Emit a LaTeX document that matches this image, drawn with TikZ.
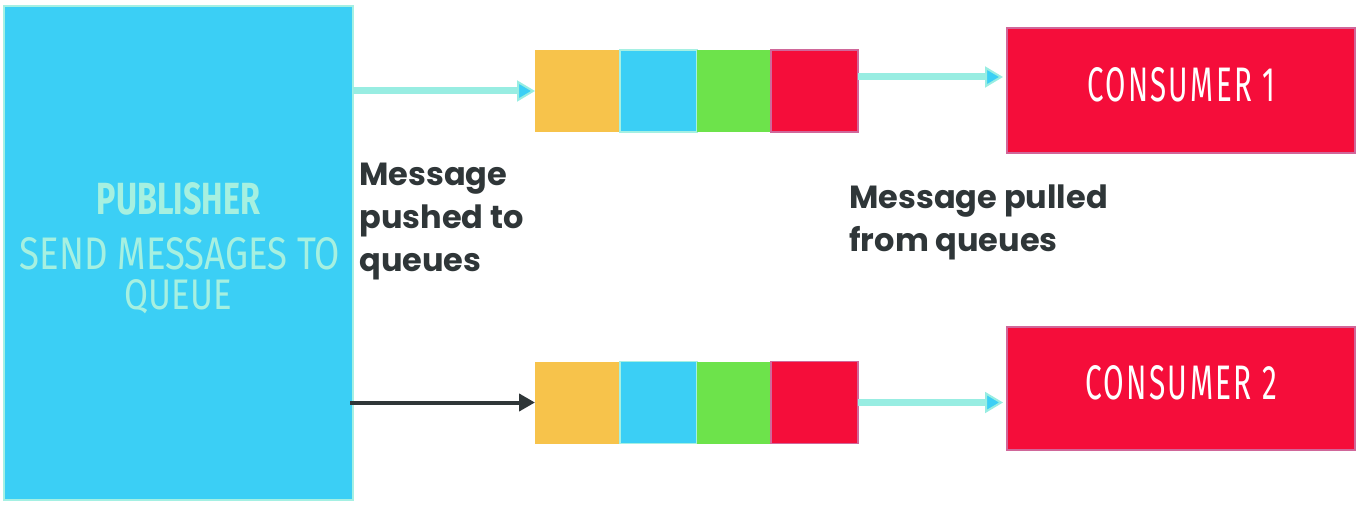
\documentclass[tikz,border=0pt]{standalone}
\usepackage{fontspec}
\setmainfont{Poppins}
\newfontfamily\condfont{Fira Sans}
\newfontfamily\spacedfont[LetterSpace=8]{Fira Sans}
\usetikzlibrary{arrows.meta}
\definecolor{pubblue}{HTML}{3BCFF5}
\definecolor{pubedge}{HTML}{A5F0E3}
\definecolor{mint}{HTML}{A6F0E0}
\definecolor{qyellow}{HTML}{F7C34B}
\definecolor{qgreen}{HTML}{6DE34B}
\definecolor{qred}{HTML}{F50D3A}
\definecolor{rededge}{HTML}{D0679A}
\definecolor{arrowcyan}{HTML}{98EDE2}
\definecolor{darktext}{HTML}{2F3638}
\begin{document}
\begin{tikzpicture}[x=0.5pt,y=-0.5pt,
  cell/.style={rectangle, inner sep=0pt, outer sep=0pt, minimum height=41pt, line width=0.6pt},
  consumer/.style={rectangle, inner sep=0pt, outer sep=0pt, fill=qred, draw=rededge, line width=0.8pt, minimum width=174pt},
  lightarrow/.style={draw=arrowcyan, line width=3.5pt, -{Triangle[length=9pt,width=10.5pt,fill=pubblue,line width=1pt]}},
  darkarrow/.style={draw=darktext, line width=2pt, -{Triangle[length=8pt,width=8.5pt]}},
  lbl/.style={anchor=north west, inner sep=0pt, align=left, text=darktext, font=\fontsize{16}{21.5}\selectfont\bfseries},
  pubtext/.style={inner sep=0pt, text=mint},
  context/.style={inner sep=0pt, text=white}
]
\useasboundingbox (0,0) rectangle (1363,508);
% publisher
\node[rectangle, inner sep=0pt, outer sep=0pt, fill=pubblue, draw=pubedge, line width=0.8pt,
      minimum width=174.5pt, minimum height=247pt] (pub) at (178.5,253) {};
\node[pubtext] (pubt1) at (178.5,199) {\resizebox{81.5pt}{16pt}{\condfont\bfseries PUBLISHER}};
\node[pubtext] (pubt2) at (180,254) {\resizebox{160pt}{16pt}{\condfont SEND MESSAGES TO}};
\node[pubtext] (pubt3) at (178.5,297) {\resizebox{53.5pt}{15pt}{\condfont QUEUE}};
% top queue
\node[cell, fill=qyellow, minimum width=42.5pt] (q1a) at (577.5,91) {};
\node[cell, fill=pubblue, draw=pubedge, minimum width=38.5pt] (q1b) at (658.5,91) {};
\node[cell, fill=qgreen, minimum width=37pt] (q1c) at (734,91) {};
\node[cell, fill=qred, draw=rededge, minimum width=43.5pt] (q1d) at (814.5,91) {};
% bottom queue
\node[cell, fill=qyellow, minimum width=42.5pt] (q2a) at (577.5,402.5) {};
\node[cell, fill=pubblue, draw=pubedge, minimum width=38.5pt] (q2b) at (658.5,402.5) {};
\node[cell, fill=qgreen, minimum width=37pt] (q2c) at (734,402.5) {};
\node[cell, fill=qred, draw=rededge, minimum width=43.5pt] (q2d) at (814.5,402.5) {};
% consumers
\node[consumer, minimum height=62.5pt] (c1) at (1181,90.5) {};
\node[context] (c1t) at (1181,85) {\resizebox{94pt}{17pt}{\spacedfont CONSUMER 1}};
\node[consumer, minimum height=61.5pt] (c2) at (1181,388.5) {};
\node[context] (c2t) at (1181,383) {\resizebox{96pt}{17pt}{\spacedfont CONSUMER 2}};
% arrows
\coordinate (q1out) at ([yshift=7pt]q1d.east);
\draw[lightarrow] (pub.east |- q1a.west) -- (q1a.west);
\draw[darkarrow] ([xshift=-1.5pt]pub.east |- q2a.west) -- (q2a.west);
\draw[lightarrow, shorten >=2pt] (q1out) -- (c1.west |- q1out);
\draw[lightarrow, shorten >=2pt] (q2d.east) -- (c2.west |- q2d.east);
% labels
\node[lbl] (lab1) at (359,163) {Message\\pushed to\\queues};
\node[lbl] (lab2) at (849,184) {Message pulled\\from queues};
\end{tikzpicture}
\end{document}
